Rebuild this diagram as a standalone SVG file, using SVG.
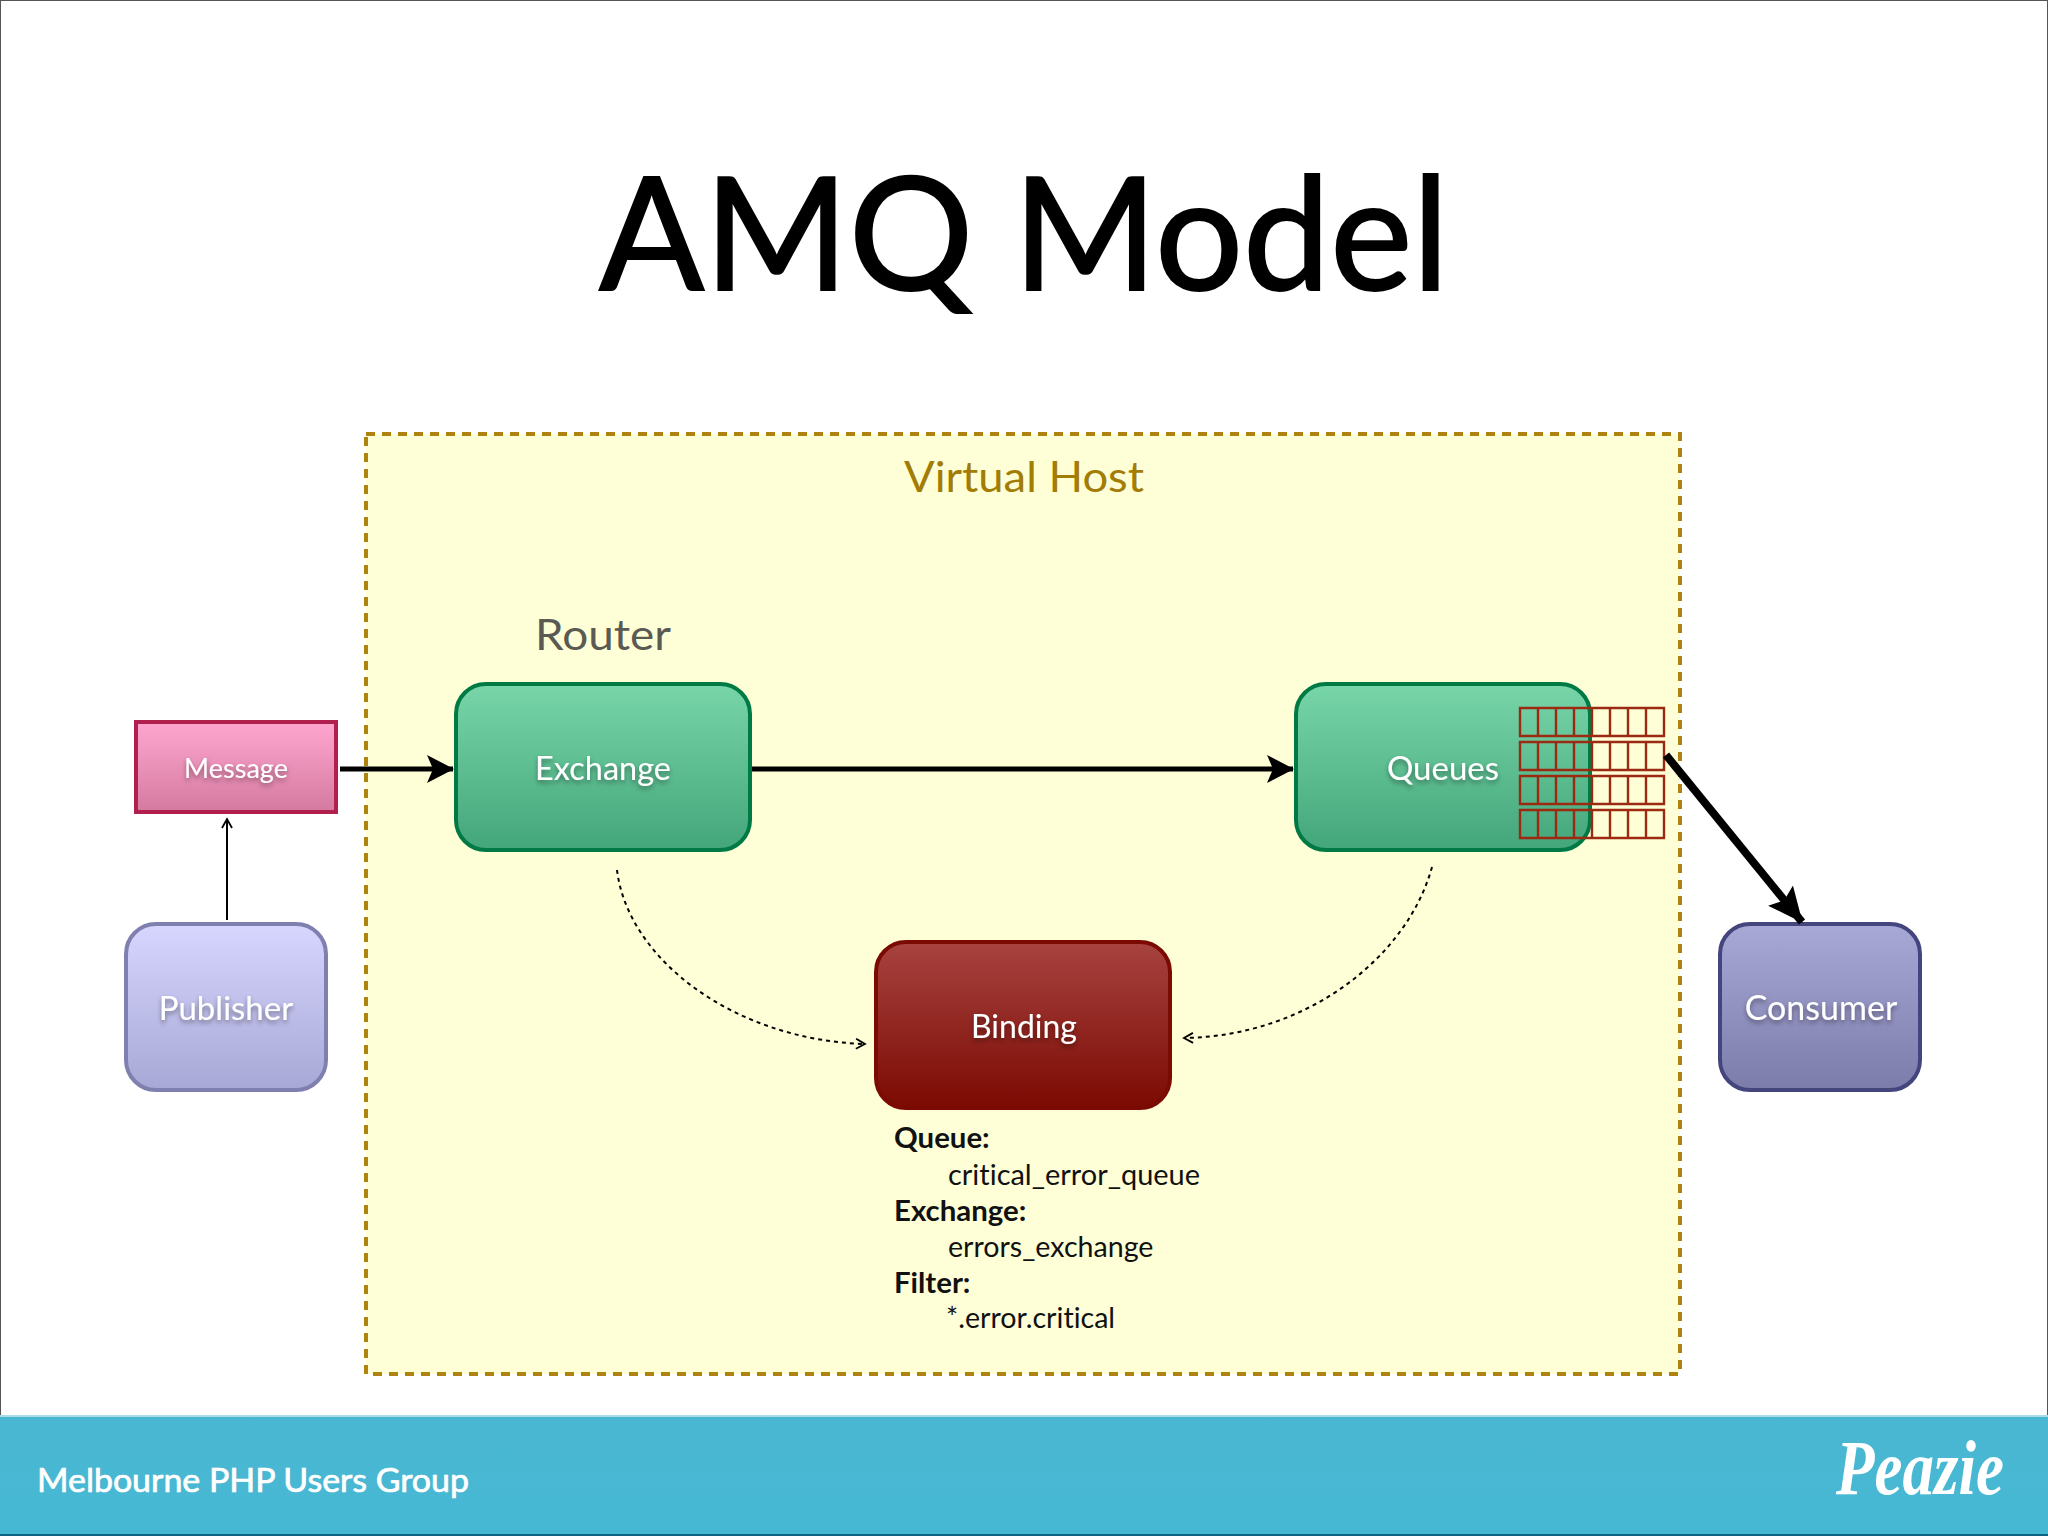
<svg xmlns="http://www.w3.org/2000/svg" width="2048" height="1536" viewBox="0 0 2048 1536">
<defs>
<linearGradient id="gGreen" x1="0" y1="0" x2="0" y2="1"><stop offset="0" stop-color="#78d6a9"/><stop offset="1" stop-color="#43a67a"/></linearGradient>
<linearGradient id="gPink" x1="0" y1="0" x2="0" y2="1"><stop offset="0" stop-color="#ffa6d0"/><stop offset="1" stop-color="#d47a9f"/></linearGradient>
<linearGradient id="gPub" x1="0" y1="0" x2="0" y2="1"><stop offset="0" stop-color="#d6d6ff"/><stop offset="1" stop-color="#a8a8d6"/></linearGradient>
<linearGradient id="gCon" x1="0" y1="0" x2="0" y2="1"><stop offset="0" stop-color="#a9a9d8"/><stop offset="1" stop-color="#7c7cab"/></linearGradient>
<linearGradient id="gRed" x1="0" y1="0" x2="0" y2="1"><stop offset="0" stop-color="#a84340"/><stop offset="1" stop-color="#7b0a02"/></linearGradient>
<linearGradient id="gFoot" x1="0" y1="0" x2="0" y2="1"><stop offset="0" stop-color="#4ab7d2"/><stop offset="1" stop-color="#46b8d4"/></linearGradient>
<filter id="sh" x="-20%" y="-30%" width="140%" height="170%"><feDropShadow dx="0" dy="3" stdDeviation="2.5" flood-color="#000" flood-opacity=".4"/></filter>
<marker id="big" markerUnits="userSpaceOnUse" viewBox="0 0 28 30" refX="26" refY="15" markerWidth="28" markerHeight="30" orient="auto"><path d="M0 1 L27 15 L0 29 L6 15 Z" fill="#000"/></marker>
<marker id="huge" markerUnits="userSpaceOnUse" viewBox="0 0 36 34" refX="34" refY="17" markerWidth="36" markerHeight="34" orient="auto"><path d="M0 1 L35 17 L0 33 L6 17 Z" fill="#000"/></marker>
<marker id="small" markerUnits="userSpaceOnUse" viewBox="0 0 12 12" refX="10" refY="6" markerWidth="12" markerHeight="12" orient="auto"><path d="M1 1 L10 6 L1 11" fill="none" stroke="#000" stroke-width="1.8"/></marker>
</defs>
<style>
text{font-family:"Lato","Liberation Sans",sans-serif;font-variant-ligatures:none}
.lbl{fill:#fff;text-anchor:middle;font-size:33px;filter:url(#sh)}
.box{stroke-width:4}
.det{font-size:28.6px;fill:#111}
.b{font-weight:700;font-size:29.4px}
.cell{fill:none;stroke:#9c2a12;stroke-width:2.4}
</style>
<rect width="2048" height="1536" fill="#fff"/>
<rect x=".5" y=".5" width="2047" height="1535" fill="none" stroke="#555" stroke-width="1"/>
<text x="1024" y="290" text-anchor="middle" font-size="158" fill="#000" stroke="#000" stroke-width="2" textLength="850" lengthAdjust="spacingAndGlyphs">AMQ Model</text>

<g id="virtual-host">
<rect x="366" y="434" width="1314" height="940" fill="#feffd6" stroke="#ae830f" stroke-width="4" stroke-dasharray="9 7"/>
<text x="1024" y="492" text-anchor="middle" font-size="43" fill="#a27c05" textLength="240" lengthAdjust="spacingAndGlyphs">Virtual Host</text>
</g>
<text id="router-label" x="603" y="650" text-anchor="middle" font-size="43" fill="#5a5a52" textLength="136" lengthAdjust="spacingAndGlyphs">Router</text>

<g id="message"><rect class="box" x="136" y="722" width="200" height="90" fill="url(#gPink)" stroke="#b01f4d"/><text class="lbl" x="236" y="778" style="font-size:27px">Message</text></g>
<g id="publisher"><rect class="box" x="126" y="924" width="200" height="166" rx="30" fill="url(#gPub)" stroke="#8080b0"/><text class="lbl" x="226" y="1020">Publisher</text></g>
<g id="exchange"><rect class="box" x="456" y="684" width="294" height="166" rx="30" fill="url(#gGreen)" stroke="#007a45"/><text class="lbl" x="603" y="780" style="font-size:32.5px">Exchange</text></g>
<g id="queues"><rect class="box" x="1296" y="684" width="294" height="166" rx="30" fill="url(#gGreen)" stroke="#007a45"/><text class="lbl" x="1443" y="780">Queues</text>
<g id="queue-grid">
<path class="cell" d="M1520 708h144v28h-144zM1520 742h144v28h-144zM1520 776h144v28h-144zM1520 810h144v28h-144z"/>
<path class="cell" d="M1538 708v28M1556 708v28M1574 708v28M1592 708v28M1610 708v28M1628 708v28M1646 708v28M1538 742v28M1556 742v28M1574 742v28M1592 742v28M1610 742v28M1628 742v28M1646 742v28M1538 776v28M1556 776v28M1574 776v28M1592 776v28M1610 776v28M1628 776v28M1646 776v28M1538 810v28M1556 810v28M1574 810v28M1592 810v28M1610 810v28M1628 810v28M1646 810v28"/>
</g></g>
<g id="binding"><rect x="876" y="942" width="294" height="166" rx="30" fill="url(#gRed)" stroke="#7b0a02" stroke-width="4"/><text class="lbl" x="1024" y="1038" style="font-size:32px">Binding</text></g>
<g id="consumer"><rect class="box" x="1720" y="924" width="200" height="166" rx="30" fill="url(#gCon)" stroke="#45457e"/><text class="lbl" x="1821" y="1020" style="font-size:34px">Consumer</text></g>

<g id="binding-details">
<text class="det b" x="894" y="1148">Queue:</text>
<text class="det" x="948" y="1185" textLength="252" lengthAdjust="spacingAndGlyphs">critical_error_queue</text>
<text class="det b" x="894" y="1221">Exchange:</text>
<text class="det" x="948" y="1257">errors_exchange</text>
<text class="det b" x="894" y="1293">Filter:</text>
<text class="det" x="946" y="1328">*.error.critical</text>
</g>

<g id="connectors" fill="none" stroke="#000">
<path d="M340 769H453" stroke-width="5" marker-end="url(#big)"/>
<path d="M752 769H1293" stroke-width="5" marker-end="url(#big)"/>
<path d="M227 920V819" stroke-width="2" marker-end="url(#small)"/>
<path d="M1666 755L1802 922" stroke-width="8" marker-end="url(#huge)"/>
<path d="M617 870C628 960 735 1040 865 1044" stroke-width="2" stroke-dasharray="4 4" marker-end="url(#small)"/>
<path d="M1432 867C1408 955 1310 1036 1184 1038" stroke-width="2" stroke-dasharray="4 4" marker-end="url(#small)"/>
</g>

<g id="footer">
<rect x="0" y="1416" width="2048" height="119" fill="url(#gFoot)"/>
<rect x="0" y="1415" width="2048" height="2" fill="#a9dce9"/>
<rect x="0" y="1534" width="2048" height="2" fill="#0f6484"/>
<text x="37" y="1492" font-size="32" fill="#fff" stroke="#fff" stroke-width=".7" textLength="432" lengthAdjust="spacingAndGlyphs">Melbourne PHP Users Group</text>
<text x="1836" y="1494" font-size="78" font-style="italic" font-weight="700" fill="#fff" style="font-family:'Liberation Serif',serif" textLength="168" lengthAdjust="spacingAndGlyphs">Peazie</text>
</g>
</svg>
